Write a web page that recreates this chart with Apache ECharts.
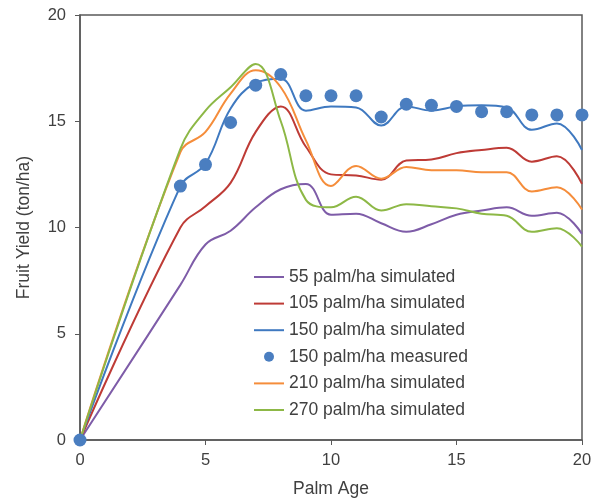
<!DOCTYPE html>
<html>
<head>
<meta charset="utf-8">
<script src="https://cdn.jsdelivr.net/npm/echarts@6/dist/echarts.min.js"></script>
<style>
  html, body { margin: 0; padding: 0; background: #fff; }
  #chart { width: 591px; height: 498px; }
</style>
</head>
<body>
<div id="chart"></div>
<script>
// palm ages (simulated series), measured ages
var ages = [0, 4, 5, 6, 7, 8, 9, 10, 11, 12, 13, 14, 15, 16, 17, 18, 19, 20];

// simulated fruit yield (ton/ha)
var sim55  = [0, 7.3, 9.2, 9.85, 10.95, 11.8, 12.05, 10.6, 10.65, 10.2, 9.8, 10.15, 10.6, 10.8, 10.95, 10.55, 10.7, 9.7];
var sim105 = [0, 10.0, 11.0, 12.1, 14.5, 15.7, 13.8, 12.5, 12.45, 12.25, 13.15, 13.2, 13.5, 13.65, 13.75, 13.1, 13.35, 12.05];
var sim150 = [0, 11.95, 13.0, 15.6, 16.8, 17.0, 15.5, 15.7, 15.65, 14.8, 15.7, 15.5, 15.7, 15.75, 15.65, 14.6, 14.9, 13.65];
var sim210 = [0, 13.55, 14.5, 16.3, 17.4, 16.6, 14.1, 11.95, 12.9, 12.3, 12.85, 12.7, 12.7, 12.6, 12.6, 11.7, 11.9, 10.85];
var sim270 = [0, 13.7, 15.5, 16.6, 17.7, 15.0, 11.3, 10.95, 11.45, 10.8, 11.1, 11.0, 10.9, 10.65, 10.55, 9.8, 9.97, 9.1];

// measured yield at 150 palm/ha
var meas150 = [0, 11.95, 12.96, 14.94, 16.7, 17.2, 16.2, 16.2, 16.2, 15.2, 15.8, 15.75, 15.7, 15.45, 15.45, 15.3, 15.3, 15.3];

var xTicks = [0, 5, 10, 15, 20];
var yTicks = [0, 5, 10, 15, 20];

function pairs(xs, ys) {
  return xs.map(function (x, i) { return [x, ys[i]]; });
}

var chart = echarts.init(document.getElementById('chart'));

var textColor = '#404040';
var axisColor = '#595959';

function simSeries(name, data, color) {
  return {
    name: name,
    type: 'line',
    smooth: 0.4,
    symbol: 'none',
    lineStyle: { color: color, width: 2 },
    itemStyle: { color: color },
    data: pairs(ages, data),
    z: 2
  };
}

var option = {
  animation: false,
  textStyle: { fontFamily: 'Liberation Sans, Arial, sans-serif' },
  grid: {
    left: 80,
    right: 9,
    top: 15,
    bottom: 58,
    outerBoundsMode: 'none',
    show: true,
    borderColor: axisColor,
    borderWidth: 1.5
  },
  legend: {
    orient: 'vertical',
    left: 248,
    top: 262,
    itemWidth: 30,
    itemHeight: 10,
    itemGap: 6.6,
    // hide the symbol on line icons, keep only the line
    itemStyle: { opacity: 0 },
    textStyle: { color: textColor, fontSize: 17.5, lineHeight: 20 },
    data: [
      '55 palm/ha simulated',
      '105 palm/ha simulated',
      '150 palm/ha simulated',
      { name: '150 palm/ha measured', itemStyle: { opacity: 1 } },
      '210 palm/ha simulated',
      '270 palm/ha simulated'
    ]
  },
  xAxis: {
    type: 'value',
    min: xTicks[0],
    max: xTicks[xTicks.length - 1],
    interval: 5,
    name: 'Palm Age',
    nameLocation: 'middle',
    nameGap: 40,
    nameTextStyle: { color: textColor, fontSize: 17.5 },
    axisLine: { lineStyle: { color: axisColor, width: 1.5 } },
    axisTick: { show: true, length: 5, lineStyle: { color: axisColor } },
    axisLabel: { color: textColor, fontSize: 16.5, margin: 12 },
    splitLine: { show: false }
  },
  yAxis: {
    type: 'value',
    min: yTicks[0],
    max: yTicks[yTicks.length - 1],
    interval: 5,
    name: 'Fruit Yield (ton/ha)',
    nameLocation: 'middle',
    nameGap: 47,
    nameTextStyle: { color: textColor, fontSize: 17.5 },
    axisLine: { show: true, lineStyle: { color: axisColor, width: 1.5 } },
    axisTick: { show: true, length: 5, lineStyle: { color: axisColor } },
    axisLabel: { color: textColor, fontSize: 16.5, margin: 14 },
    splitLine: { show: false }
  },
  series: [
    simSeries('55 palm/ha simulated', sim55, '#7e5ca8'),
    simSeries('105 palm/ha simulated', sim105, '#be3b36'),
    simSeries('150 palm/ha simulated', sim150, '#3f79c0'),
    {
      name: '150 palm/ha measured',
      type: 'scatter',
      symbol: 'circle',
      symbolSize: 13,
      itemStyle: { color: '#4a7ec0', opacity: 1 },
      data: pairs(ages, meas150),
      z: 5
    },
    simSeries('210 palm/ha simulated', sim210, '#f58d3b'),
    simSeries('270 palm/ha simulated', sim270, '#8db846')
  ]
};

chart.setOption(option);
</script>
</body>
</html>
